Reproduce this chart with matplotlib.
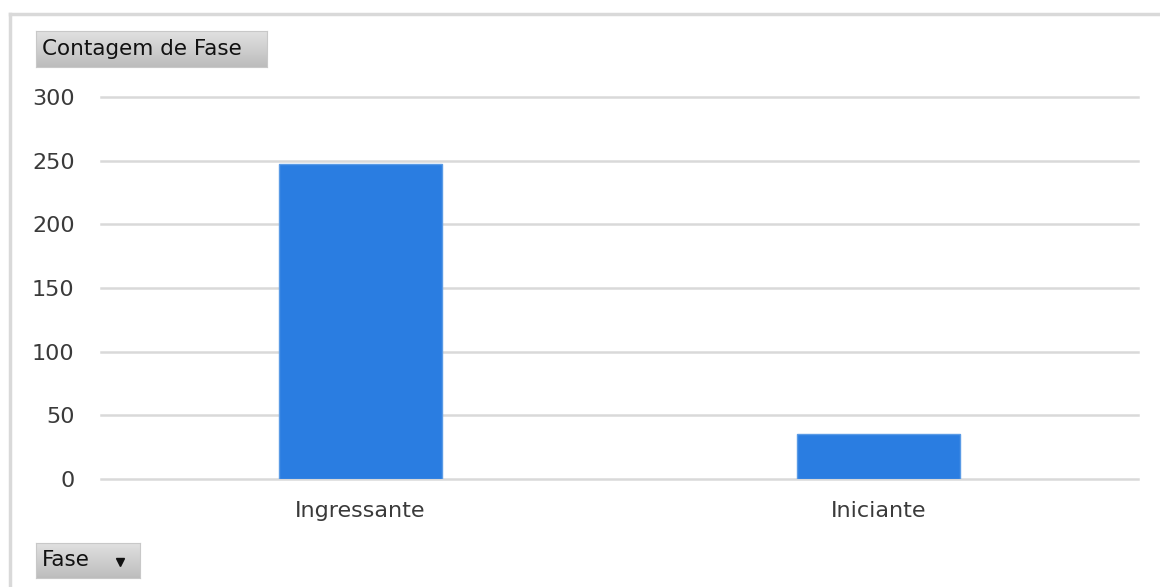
import numpy as np
import matplotlib
matplotlib.use("Agg")
import matplotlib.pyplot as plt
from matplotlib.lines import Line2D

categories = ["Ingressante", "Iniciante"]
counts = [247, 35]
y_ticks = [0, 50, 100, 150, 200, 250, 300]

W, H = 1160, 587
fig = plt.figure(figsize=(W / 100, H / 100), dpi=100)
fig.patch.set_facecolor("white")

def fx(px):
    return px / W

def fy(py):
    return 1 - py / H

# outer frame (top and left edges)
frame_col = "#d9d9d9"
fig.add_artist(Line2D([fx(10), 1.0], [fy(14), fy(14)], color=frame_col, lw=2.5,
                      transform=fig.transFigure))
fig.add_artist(Line2D([fx(10), fx(10)], [fy(14), 0.0], color=frame_col, lw=2.5,
                      transform=fig.transFigure))

ax = fig.add_axes([fx(101), fy(479), fx(1138) - fx(101), fy(97) - fy(479)])
x = np.arange(len(categories))
ax.bar(x, counts, width=0.315, color="#2a7de1", edgecolor="#5a9be6", linewidth=1.0, zorder=3)

ax.set_xlim(-0.5, len(categories) - 0.5)
ax.set_ylim(0, 300)
ax.set_yticks(y_ticks)
ax.set_xticks(x)
ax.set_xticklabels(categories)
ax.grid(axis="y", color="#d9d9d9", lw=1.8, zorder=0)
for gl in ax.get_ygridlines():
    gl.set_clip_on(False)
ax.set_axisbelow(True)
for s in ax.spines.values():
    s.set_visible(False)
ax.tick_params(axis="both", length=0, labelcolor="#3a3a3a", labelsize=16)
ax.tick_params(axis="y", pad=19)
ax.tick_params(axis="x", pad=16)
ax.set_facecolor("none")

def button(x0, y0, x1, y1, label, arrow=False):
    bax = fig.add_axes([fx(x0), fy(y1), fx(x1) - fx(x0), fy(y0) - fy(y1)])
    grad = np.linspace(0.88, 0.74, 64).reshape(-1, 1)
    bax.imshow(np.dstack([grad, grad, grad]), aspect="auto", extent=[0, 1, 0, 1],
               origin="upper")
    bax.set_xlim(0, 1)
    bax.set_ylim(0, 1)
    bax.set_xticks([])
    bax.set_yticks([])
    for s in bax.spines.values():
        s.set_color("#c8c8c8")
        s.set_linewidth(0.8)
    bax.text(6 / (x1 - x0), 0.5, label, ha="left", va="center", fontsize=15.5,
             color="#111111")
    if arrow:
        cx = (x1 - x0 - 20) / (x1 - x0)
        bax.plot([cx], [0.46], marker="v", color="#111111", markersize=5.5)

button(36, 31, 267, 67, "Contagem de Fase")
button(36, 543, 140, 578, "Fase", arrow=True)

fig.savefig("out.png", dpi=100, facecolor="white")
